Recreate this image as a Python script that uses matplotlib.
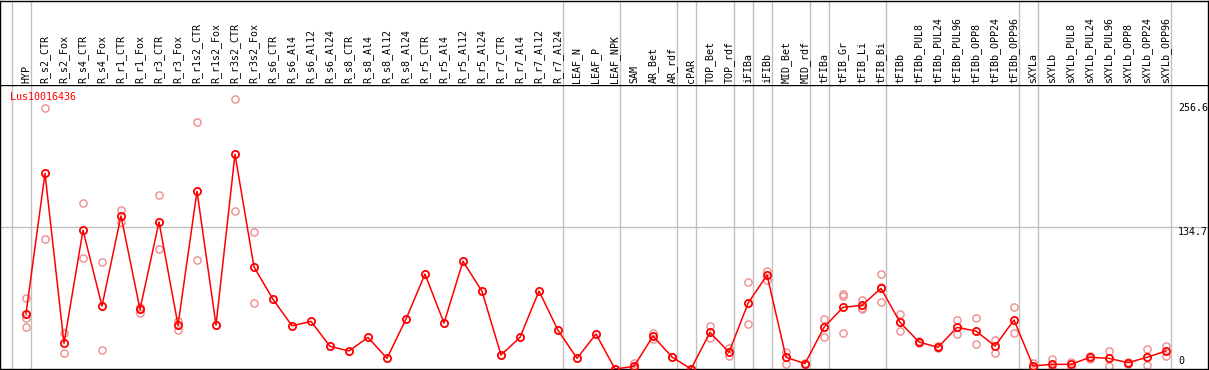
"""Expression profile of Lus10016436 across tissues / treatments. Output: out.png"""
import matplotlib
matplotlib.use("Agg")
import matplotlib.pyplot as plt
import numpy as np

RED, PINK, GRID, INK = "#ff0000", "#f08c8c", "#c0c0c0", "#000000"
nan = np.nan

GENE = "Lus10016436"

samples = [
    "HYP", "R_s2_CTR", "R_s2_Fox", "R_s4_CTR", "R_s4_Fox", "R_r1_CTR", "R_r1_Fox",
    "R_r3_CTR", "R_r3_Fox", "R_r1s2_CTR", "R_r1s2_Fox", "R_r3s2_CTR", "R_r3s2_Fox",
    "R_s6_CTR", "R_s6_Al4", "R_s6_Al12", "R_s6_Al24", "R_s8_CTR", "R_s8_Al4",
    "R_s8_Al12", "R_s8_Al24", "R_r5_CTR", "R_r5_Al4", "R_r5_Al12", "R_r5_Al24",
    "R_r7_CTR", "R_r7_Al4", "R_r7_Al12", "R_r7_Al24", "LEAF_N", "LEAF_P", "LEAF_NPK",
    "SAM", "AR_Bet", "AR_rdf", "cPAR", "TOP_Bet", "TOP_rdf", "iFIBa", "iFIBb",
    "MID_Bet", "MID_rdf", "tFIBa", "tFIB_Gr", "tFIB_Li", "tFIB_Bi", "tFIBb",
    "tFIBb_PUL8", "tFIBb_PUL24", "tFIBb_PUL96", "tFIBb_OPP8", "tFIBb_OPP24",
    "tFIBb_OPP96", "sXYLa", "sXYLb", "sXYLb_PUL8", "sXYLb_PUL24", "sXYLb_PUL96",
    "sXYLb_OPP8", "sXYLb_OPP24", "sXYLb_OPP96",
]

mean = [
    52.5, 185.6, 24.4, 131.6, 59.8, 145.2, 56.6, 139.5, 41.7, 168.6, 41.7, 203.7, 96.8,
    66.1, 41.0, 45.2, 21.5, 17.1, 30.0, 10.1, 47.4, 90.1, 43.6, 102.2, 73.7,
    13.3, 30.0, 74.0, 36.7, 10.1, 33.2, 0.0,
    2.5, 31.2, 11.4, 0.0, 34.8, 15.8, 62.3, 89.2, 11.1, 5.1, 39.5, 58.5, 60.4, 76.5,
    44.3, 25.6, 20.5, 39.5, 36.0, 21.8, 46.5,
    3.0, 4.4, 4.4, 11.1, 10.1, 6.0, 11.1, 17.1,
]

# individual replicates (nan = no further replicate)
rep_a = [
    67.1, 247.3, 33.9, 157.2, 101.2, 150.8, 59.1, 164.8, 45.8, 234.0, 41.7, 256.6, 129.7,
    nan, nan, nan, nan, nan, nan, nan, nan, nan, nan, nan, nan,
    nan, nan, nan, nan, nan, nan, 0.0,
    5.4, 33.8, 11.4, 0.0, 41.1, 20.2, 82.2, 93.3, 16.4, 5.7, 47.4, 71.2, 65.5, 89.8,
    51.9, 27.0, 21.5, 46.2, 48.1, 27.2, 58.5,
    6.0, 9.5, 6.6, 12.5, 17.1, 7.0, 18.7, 22.1,
]
rep_b = [
    48.1, 123.3, 14.9, 105.0, 18.0, 139.8, 52.8, 113.5, 37.0, 103.1, nan, 149.6, 62.3,
    nan, nan, nan, nan, nan, nan, nan, nan, nan, nan, nan, nan,
    nan, nan, nan, nan, nan, nan, nan,
    0.5, 28.6, nan, nan, 29.1, 12.7, 42.4, 84.4, 4.5, 4.5, 30.7, 69.3, 57.6, 78.1,
    36.4, 24.2, 19.5, 32.9, 23.7, 14.9, 33.8,
    0.5, 0.0, 2.2, 9.7, 3.2, 5.0, 3.5, 12.3,
]
rep_c = [
    39.5, nan, nan, nan, nan, nan, nan, nan, nan, nan, nan, nan, nan,
    nan, nan, nan, nan, nan, nan, nan, nan, nan, nan, nan, nan,
    nan, nan, nan, nan, nan, nan, nan,
    nan, nan, nan, nan, nan, nan, nan, nan, nan, nan, nan, 33.8, 56.6, 63.3,
    nan, nan, nan, nan, nan, nan, nan,
    nan, nan, nan, nan, nan, nan, nan, nan,
]

# last sample index of each group (separator drawn just right of it)
group_ends = [-1, 0, 28, 31, 34, 35, 37, 38, 39, 41, 42, 45, 52, 53, 60]

ymax = max(np.nanmax(rep_a), max(mean))
ytop = ymax * 1.05

plt.rcParams.update({"font.family": ["DejaVu Sans Mono"], "font.size": 7.2})

W, H = 1209, 370
fig = plt.figure(figsize=(W / 100, H / 100), dpi=100)
fig.patch.set_facecolor("white")

# plot area: pixel rows 85..369, columns 0..1208; sample i sits at pixel 26 + 19 i
ax = fig.add_axes([0, 1 / H, 1208 / W, 284 / H])
hax = fig.add_axes([0, 285 / H, 1208 / W, 84.5 / H])
x = np.arange(len(samples))
xlim = (-26 / 19, (1208 - 26) / 19)
for a in (ax, hax):
    a.set_xlim(*xlim)
    a.set_xticks([])
    a.set_yticks([])
    for s in a.spines.values():
        s.set_color(INK)
        s.set_linewidth(1.0)
ax.set_ylim(0, ytop)
hax.set_ylim(0, 1)
hax.spines["bottom"].set_visible(False)

for g in group_ends:
    for a in (ax, hax):
        a.axvline(g + 5 / 19, color=GRID, lw=1.0, zorder=0)
ax.axhline(ytop / 2, color=GRID, lw=1.0, zorder=0)

for r in (rep_a, rep_b, rep_c):
    ax.plot(x, r, ls="none", marker="o", ms=5.2, mfc="none", mec=PINK, mew=1.0,
            zorder=2, clip_on=True)
ax.plot(x, mean, color=RED, lw=1.1, marker="o", ms=5.2, mfc="none", mec=RED,
        mew=1.3, zorder=3)

for i, lab in enumerate(samples):
    hax.text(i, 0.025, lab, rotation=90, ha="center", va="bottom", color=INK)

ax.text(10 / 19 - 26 / 19, ytop * (1 - 12 / 284), GENE, color=RED, ha="left",
        va="center")

lx = (1178 - 26) / 19
for val, txt, dy in [(ymax, f"{ymax:.1f}", -9.5), (ytop / 2, f"{ytop / 2:.1f}", -5),
                     (0, "0", 7.5)]:
    ax.annotate(txt, (lx, val), xytext=(0, dy), textcoords="offset pixels",
                ha="left", va="center", color=INK, annotation_clip=False)

fig.savefig("out.png", dpi=100, facecolor="white")
